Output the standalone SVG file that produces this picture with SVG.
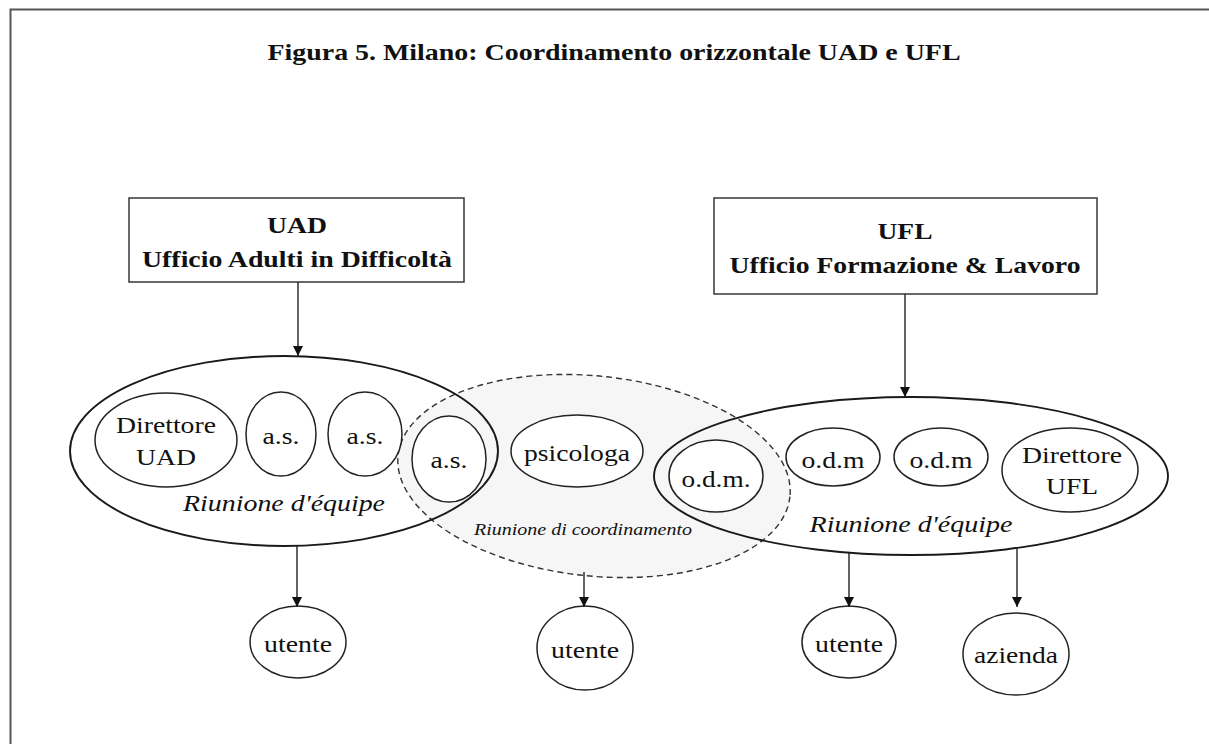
<svg xmlns="http://www.w3.org/2000/svg" width="1209" height="744" viewBox="0 0 1209 744">
  <style>
    .frame { stroke: #555; stroke-width: 2; fill: none; }
    .box { fill: #fff; stroke: #444; stroke-width: 1.6; }
    .big { fill: none; stroke: #1a1a1a; stroke-width: 1.9; }
    .unit { fill: #fff; stroke: #222; stroke-width: 1.5; }
    .coord { fill: #f6f6f6; stroke: #333; stroke-width: 1.4; stroke-dasharray: 6 4; }
    .conn { stroke: #222; stroke-width: 1.4; fill: none; marker-end: url(#arrow); }
    text { font-family: Liberation Serif, Tinos, Times New Roman, Times, serif; fill: #111; text-anchor: middle; }
    .title { font-size: 23px; font-weight: bold; }
    .head { font-size: 23px; font-weight: bold; }
    .lbl { font-size: 23px; }
    .it { font-size: 23px; font-style: italic; }
    .small { font-size: 16.5px; font-style: italic; }
  </style>
  <defs>
    <marker id="arrow" markerWidth="11" markerHeight="11" refX="10" refY="5" orient="auto" markerUnits="userSpaceOnUse">
      <path d="M0,0 L10,5 L0,10 Z" fill="#111"/>
    </marker>
  </defs>

  <rect width="1209" height="744" fill="#fff"/>
  <!-- page frame -->
  <path class="frame" d="M10.5,744 L10.5,9.5 L1209,9.5"/>

  <text class="title" x="614" y="60" textLength="693" lengthAdjust="spacingAndGlyphs">Figura 5. Milano: Coordinamento orizzontale UAD e UFL</text>

  <!-- coordination meeting (dashed, shaded) -->
  <g id="coordinamento">
    <ellipse class="coord" cx="594" cy="476" rx="197" ry="100" transform="rotate(6 594 476)"/>
    <text class="small" x="583" y="535" textLength="218" lengthAdjust="spacingAndGlyphs">Riunione di coordinamento</text>
  </g>

  <!-- UAD side -->
  <g id="uad">
    <rect class="box" x="129" y="198" width="335" height="84"/>
    <text class="head" x="297" y="233" textLength="60" lengthAdjust="spacingAndGlyphs">UAD</text>
    <text class="head" x="297" y="267" textLength="310" lengthAdjust="spacingAndGlyphs">Ufficio Adulti in Difficoltà</text>
  </g>

  <g id="equipe-uad">
    <ellipse class="big" cx="284" cy="451" rx="214" ry="95"/>
    <text class="it" x="284" y="511" textLength="202" lengthAdjust="spacingAndGlyphs">Riunione d'équipe</text>
  </g>

  <g id="direttore-uad">
    <ellipse class="unit" cx="166" cy="440" rx="71" ry="47"/>
    <text class="lbl" x="166" y="433" textLength="100" lengthAdjust="spacingAndGlyphs">Direttore</text>
    <text class="lbl" x="166" y="465" textLength="60" lengthAdjust="spacingAndGlyphs">UAD</text>
  </g>
  <g id="as-1">
    <ellipse class="unit" cx="281" cy="434" rx="35" ry="42"/>
    <text class="lbl" x="281" y="444" textLength="37" lengthAdjust="spacingAndGlyphs">a.s.</text>
  </g>
  <g id="as-2">
    <ellipse class="unit" cx="365" cy="434" rx="37" ry="42"/>
    <text class="lbl" x="365" y="444" textLength="37" lengthAdjust="spacingAndGlyphs">a.s.</text>
  </g>
  <g id="as-3">
    <ellipse class="unit" cx="449" cy="459" rx="37" ry="43"/>
    <text class="lbl" x="449" y="468" textLength="37" lengthAdjust="spacingAndGlyphs">a.s.</text>
  </g>

  <g id="psicologa">
    <ellipse class="unit" cx="577" cy="451" rx="66" ry="36"/>
    <text class="lbl" x="577" y="461" textLength="106" lengthAdjust="spacingAndGlyphs">psicologa</text>
  </g>

  <!-- UFL side -->
  <g id="ufl">
    <rect class="box" x="714" y="198" width="383" height="96"/>
    <text class="head" x="905" y="239" textLength="55" lengthAdjust="spacingAndGlyphs">UFL</text>
    <text class="head" x="905" y="273" textLength="351" lengthAdjust="spacingAndGlyphs">Ufficio Formazione &amp; Lavoro</text>
  </g>

  <g id="equipe-ufl">
    <ellipse class="big" cx="911" cy="476" rx="257" ry="79"/>
    <text class="it" x="911" y="532" textLength="203" lengthAdjust="spacingAndGlyphs">Riunione d'équipe</text>
  </g>

  <g id="odm-coord">
    <ellipse class="unit" cx="716" cy="476" rx="47" ry="36"/>
    <text class="lbl" x="716" y="487" textLength="69" lengthAdjust="spacingAndGlyphs">o.d.m.</text>
  </g>
  <g id="odm-1">
    <ellipse class="unit" cx="833" cy="457" rx="47" ry="29"/>
    <text class="lbl" x="833" y="468" textLength="63" lengthAdjust="spacingAndGlyphs">o.d.m</text>
  </g>
  <g id="odm-2">
    <ellipse class="unit" cx="941" cy="457" rx="47" ry="29"/>
    <text class="lbl" x="941" y="468" textLength="63" lengthAdjust="spacingAndGlyphs">o.d.m</text>
  </g>
  <g id="direttore-ufl">
    <ellipse class="unit" cx="1070" cy="470" rx="68" ry="42"/>
    <text class="lbl" x="1072" y="463" textLength="100" lengthAdjust="spacingAndGlyphs">Direttore</text>
    <text class="lbl" x="1072" y="494" textLength="52" lengthAdjust="spacingAndGlyphs">UFL</text>
  </g>

  <!-- recipients -->
  <g id="utente-uad">
    <ellipse class="unit" cx="298" cy="642" rx="48" ry="36"/>
    <text class="lbl" x="298" y="652" textLength="68" lengthAdjust="spacingAndGlyphs">utente</text>
  </g>
  <g id="utente-coord">
    <ellipse class="unit" cx="585" cy="648" rx="48" ry="42"/>
    <text class="lbl" x="585" y="658" textLength="68" lengthAdjust="spacingAndGlyphs">utente</text>
  </g>
  <g id="utente-ufl">
    <ellipse class="unit" cx="849" cy="642" rx="47" ry="36"/>
    <text class="lbl" x="849" y="652" textLength="68" lengthAdjust="spacingAndGlyphs">utente</text>
  </g>
  <g id="azienda">
    <ellipse class="unit" cx="1016" cy="654" rx="53" ry="41"/>
    <text class="lbl" x="1016" y="663" textLength="84" lengthAdjust="spacingAndGlyphs">azienda</text>
  </g>

  <!-- connectors -->
  <g id="connectors">
    <line class="conn" x1="298" y1="282" x2="298" y2="356"/>
    <line class="conn" x1="905" y1="294" x2="905" y2="397"/>
    <line class="conn" x1="297" y1="546" x2="297" y2="607"/>
    <line class="conn" x1="584" y1="572" x2="584" y2="607"/>
    <line class="conn" x1="849" y1="553" x2="849" y2="607"/>
    <line class="conn" x1="1017" y1="549" x2="1017" y2="607"/>
  </g>
</svg>
